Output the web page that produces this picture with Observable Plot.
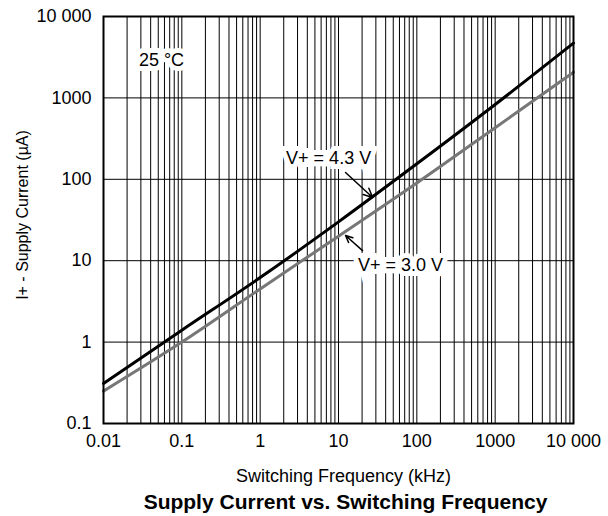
<!DOCTYPE html>
<html>
<head>
<meta charset="utf-8">
<script src="https://cdn.jsdelivr.net/npm/d3@7"></script>
<script src="https://cdn.jsdelivr.net/npm/@observablehq/plot@0.6"></script>
<style>
  html, body { margin: 0; padding: 0; background: white; }
</style>
</head>
<body>
<div id="chart"></div>
<script>
// Switching frequency (kHz)
const freq = [0.01, 0.1, 1, 10, 100, 1000, 10000];
// Supply current (µA) for V+ = 4.3 V
const current43 = [0.31, 1.4, 6.2, 30, 155, 830, 4700];
// Supply current (µA) for V+ = 3.0 V
const current30 = [0.25, 1.0, 4.5, 20, 90, 430, 2070];

const xTicks = [0.01, 0.1, 1, 10, 100, 1000, 10000];
const xTickLabels = ["0.01", "0.1", "1", "10", "100", "1000", "10 000"];
const yTicks = [0.1, 1, 10, 100, 1000, 10000];
const yTickLabels = ["0.1", "1", "10", "100", "1000", "10 000"];

const xLabelMap = new Map(xTicks.map((t, i) => [t, xTickLabels[i]]));
const yLabelMap = new Map(yTicks.map((t, i) => [t, yTickLabels[i]]));

const xMinor = [];
for (let e = -2; e < 4; e++) for (let m = 1; m <= 9; m++) xMinor.push(m * Math.pow(10, e));
xMinor.push(10000);

const series = [
  ...freq.map((f, i) => ({f, I: current43[i], s: "4.3"})),
  ...freq.map((f, i) => ({f, I: current30[i], s: "3.0"}))
];

const labels = [
  {x: 0.055, y: 2880, t: "25 °C"},
  {x: 7.48, y: 180, t: "V+ = 4.3 V"},
  {x: 62, y: 8.7, t: "V+ = 3.0 V"}
];
const arrows = [
  {x1: 12.3, y1: 121, x2: 27.3, y2: 59.8},
  {x1: 20.3, y1: 13.3, x2: 12.3, y2: 20.4}
];

const font = "'Liberation Sans', Arial, Helvetica, sans-serif";

const chart = Plot.plot({
  width: 608,
  height: 516,
  marginLeft: 103,
  marginRight: 35,
  marginTop: 16,
  marginBottom: 93,
  style: {fontFamily: font, fontSize: "18px", background: "white", color: "black", overflow: "visible"},
  x: {type: "log", domain: [0.01, 10000]},
  y: {type: "log", domain: [0.1, 10000]},
  marks: [
    Plot.gridX(xMinor, {stroke: "black", strokeOpacity: 1, strokeWidth: 1}),
    Plot.gridY(yTicks, {stroke: "black", strokeOpacity: 1, strokeWidth: 1}),
    Plot.line(series.filter(d => d.s === "3.0"), {x: "f", y: "I", stroke: "#777", strokeWidth: 3, curve: "monotone-x"}),
    Plot.line(series.filter(d => d.s === "4.3"), {x: "f", y: "I", stroke: "black", strokeWidth: 3, curve: "monotone-x"}),
    Plot.arrow(arrows, {x1: "x1", y1: "y1", x2: "x2", y2: "y2", stroke: "black", strokeWidth: 1.5, headLength: 10, headAngle: 50}),
    Plot.text(labels, {x: "x", y: "y", text: "t", fill: "black", stroke: "white", strokeWidth: 10, strokeLinejoin: "miter", fontSize: 18}),
    Plot.frame({stroke: "black", strokeWidth: 2}),
    Plot.axisX(xTicks, {tickFormat: d => xLabelMap.get(d), tickSize: 0, tickPadding: 11, fontSize: 18, label: null}),
    Plot.axisY(yTicks, {tickFormat: d => yLabelMap.get(d), tickSize: 0, tickPadding: 12, fontSize: 18, label: null}),
    Plot.text(["Switching Frequency (kHz)"], {text: d => d, frameAnchor: "bottom", textAnchor: "middle", lineAnchor: "middle", dx: 5, dy: 53, fontSize: 18}),
    Plot.text(["Supply Current vs. Switching Frequency"], {text: d => d, frameAnchor: "bottom", textAnchor: "middle", lineAnchor: "middle", dx: 7, dy: 79, fontSize: 21, fontWeight: "bold"}),
    Plot.text(["I+ - Supply Current (µA)"], {text: d => d, frameAnchor: "left", textAnchor: "middle", lineAnchor: "middle", dx: -81, dy: -5, rotate: -90, fontSize: 16})
  ]
});
document.getElementById("chart").appendChild(chart);
</script>
</body>
</html>
